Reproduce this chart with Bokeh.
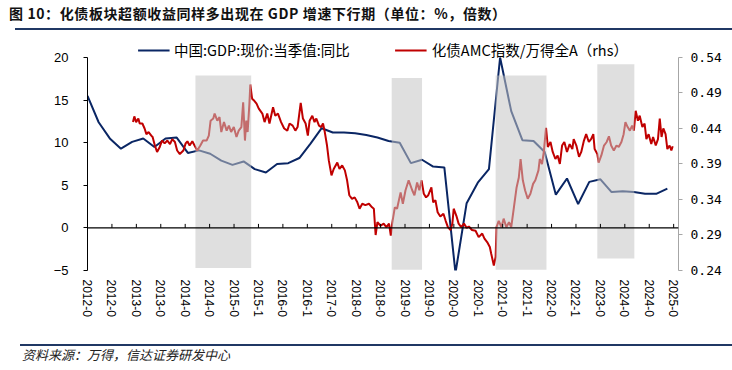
import math
from bokeh.plotting import figure
from bokeh.models import Range1d, LinearAxis, FixedTicker, Legend, LegendItem, Div, Span
from bokeh.layouts import column
from bokeh.embed import file_html
from bokeh.resources import INLINE

title_text = "图 10：化债板块超额收益同样多出现在 GDP 增速下行期（单位：%，倍数）"
source_text = "资料来源：万得，信达证券研发中心"
gdp_name = "中国:GDP:现价:当季值:同比"
ratio_name = "化债AMC指数/万得全A（rhs）"

# x axis tick labels (one every 200 days from 2012-01-01)
tick_labels = ["2012-0", "2012-0", "2013-0", "2013-0", "2014-0", "2014-0", "2015-0", "2015-1",
               "2016-0", "2016-1", "2017-0", "2018-0", "2018-0", "2019-0", "2019-0", "2020-0",
               "2020-1", "2021-0", "2021-1", "2022-0", "2022-1", "2023-0", "2024-0", "2024-0",
               "2025-0"]
tick_step_days = 200

left_ticks = [-5, 0, 5, 10, 15, 20]
right_ticks = [0.24, 0.29, 0.34, 0.39, 0.44, 0.49, 0.54]

gdp_quarters = ["2011Q4",
                "2012Q1", "2012Q2", "2012Q3", "2012Q4",
                "2013Q1", "2013Q2", "2013Q3", "2013Q4",
                "2014Q1", "2014Q2", "2014Q3", "2014Q4",
                "2015Q1", "2015Q2", "2015Q3", "2015Q4",
                "2016Q1", "2016Q2", "2016Q3", "2016Q4",
                "2017Q1", "2017Q2", "2017Q3", "2017Q4",
                "2018Q1", "2018Q2", "2018Q3", "2018Q4",
                "2019Q1", "2019Q2", "2019Q3", "2019Q4",
                "2020Q1", "2020Q2", "2020Q3", "2020Q4",
                "2021Q1", "2021Q2", "2021Q3", "2021Q4",
                "2022Q1", "2022Q2", "2022Q3", "2022Q4",
                "2023Q1", "2023Q2", "2023Q3", "2023Q4",
                "2024Q1", "2024Q2", "2024Q3", "2024Q4"]
gdp_values = [15.5,
              12.4, 10.5, 9.3, 10.1,
              10.5, 9.5, 10.5, 10.6,
              8.8, 9.1, 8.7, 7.9,
              7.4, 7.8, 6.9, 6.5,
              7.5, 7.6, 8.2, 9.9,
              11.7, 11.2, 11.2, 11.1,
              10.9, 10.6, 10.2, 10.0,
              7.6, 8.0, 7.2, 7.1,
              -5.3, 2.9, 5.3, 6.9,
              20.0, 13.7, 10.3, 10.2,
              8.9, 3.9, 5.8, 2.8,
              5.4, 5.7, 4.2, 4.3,
              4.2, 4.0, 4.0, 4.6]

# ratio series: decimal-year dates and values (right axis)
ratio_dates = [2013.02, 2013.05, 2013.09, 2013.14, 2013.17, 2013.23, 2013.28, 2013.32, 2013.37, 2013.43,
               2013.46, 2013.51, 2013.56, 2013.62, 2013.67, 2013.73, 2013.79, 2013.85, 2013.90, 2013.96,
               2014.01, 2014.07, 2014.15, 2014.20, 2014.24, 2014.29, 2014.35, 2014.40, 2014.46, 2014.53,
               2014.59, 2014.67, 2014.72, 2014.76, 2014.82, 2014.85, 2014.91, 2014.96, 2015.00, 2015.06,
               2015.12, 2015.17, 2015.22, 2015.28, 2015.34, 2015.39, 2015.45, 2015.49, 2015.53, 2015.56,
               2015.59, 2015.63, 2015.65, 2015.69, 2015.74, 2015.79, 2015.84, 2015.92, 2015.97, 2016.03,
               2016.08, 2016.16, 2016.21, 2016.27, 2016.34, 2016.41, 2016.48, 2016.53, 2016.60, 2016.66,
               2016.71, 2016.78, 2016.83, 2016.89, 2016.94, 2016.98, 2017.04, 2017.09, 2017.13, 2017.19,
               2017.24, 2017.28, 2017.32, 2017.37, 2017.41, 2017.47, 2017.52, 2017.60, 2017.65, 2017.71,
               2017.77, 2017.82, 2017.87, 2017.93, 2017.99, 2018.05, 2018.10, 2018.16, 2018.23, 2018.31,
               2018.38, 2018.42, 2018.46, 2018.50, 2018.57, 2018.64, 2018.70, 2018.76, 2018.80, 2018.83,
               2018.89, 2018.94, 2019.02, 2019.07, 2019.13, 2019.20, 2019.28, 2019.33, 2019.39, 2019.44,
               2019.49, 2019.54, 2019.59, 2019.64, 2019.71, 2019.75, 2019.80, 2019.85, 2019.91, 2019.98,
               2020.03, 2020.08, 2020.14, 2020.18, 2020.21, 2020.27, 2020.32, 2020.38, 2020.44, 2020.50,
               2020.55, 2020.62, 2020.70, 2020.77, 2020.85, 2020.90, 2020.96, 2021.02, 2021.05, 2021.11,
               2021.15, 2021.17, 2021.22, 2021.28, 2021.33, 2021.39, 2021.45, 2021.50, 2021.56, 2021.62,
               2021.67, 2021.71, 2021.76, 2021.81, 2021.87, 2021.93, 2021.99, 2022.04, 2022.11, 2022.14,
               2022.19, 2022.23, 2022.28, 2022.32, 2022.38, 2022.43, 2022.49, 2022.54, 2022.59, 2022.64,
               2022.69, 2022.75, 2022.81, 2022.87, 2022.90, 2022.96, 2023.02, 2023.07, 2023.13, 2023.18,
               2023.24, 2023.29, 2023.34, 2023.37, 2023.43, 2023.46, 2023.52, 2023.58, 2023.64, 2023.69,
               2023.74, 2023.80, 2023.86, 2023.91, 2023.97, 2024.02, 2024.06, 2024.11, 2024.16, 2024.21,
               2024.25, 2024.29, 2024.34, 2024.38, 2024.44, 2024.49, 2024.53, 2024.58, 2024.64, 2024.68,
               2024.74, 2024.79, 2024.83, 2024.87, 2024.91, 2024.96, 2025.00, 2025.05, 2025.09, 2025.12]
ratio_values = [0.449, 0.457, 0.449, 0.454, 0.447, 0.447, 0.440, 0.432, 0.435, 0.430,
                0.428, 0.416, 0.407, 0.414, 0.423, 0.419, 0.423, 0.418, 0.425, 0.421,
                0.409, 0.404, 0.409, 0.419, 0.422, 0.416, 0.422, 0.416, 0.409, 0.416,
                0.423, 0.423, 0.430, 0.451, 0.454, 0.461, 0.451, 0.456, 0.435, 0.449,
                0.437, 0.444, 0.435, 0.442, 0.428, 0.437, 0.442, 0.477, 0.423, 0.451,
                0.435, 0.475, 0.502, 0.482, 0.479, 0.475, 0.468, 0.461, 0.449, 0.461,
                0.447, 0.470, 0.458, 0.461, 0.449, 0.440, 0.437, 0.447, 0.444, 0.437,
                0.442, 0.476, 0.454, 0.447, 0.430, 0.451, 0.458, 0.449, 0.454, 0.444,
                0.442, 0.447, 0.435, 0.416, 0.395, 0.374, 0.383, 0.392, 0.383, 0.388,
                0.381, 0.367, 0.346, 0.341, 0.343, 0.336, 0.327, 0.334, 0.332, 0.334,
                0.329, 0.327, 0.290, 0.308, 0.303, 0.306, 0.301, 0.306, 0.289, 0.306,
                0.329, 0.327, 0.350, 0.334, 0.353, 0.367, 0.353, 0.346, 0.364, 0.353,
                0.367, 0.348, 0.343, 0.346, 0.357, 0.336, 0.339, 0.322, 0.316, 0.320,
                0.310, 0.301, 0.297, 0.306, 0.327, 0.317, 0.306, 0.301, 0.306, 0.300,
                0.302, 0.297, 0.296, 0.287, 0.292, 0.285, 0.280, 0.273, 0.264, 0.247,
                0.259, 0.301, 0.310, 0.301, 0.313, 0.301, 0.308, 0.301, 0.329, 0.357,
                0.371, 0.397, 0.367, 0.353, 0.341, 0.348, 0.362, 0.367, 0.381, 0.397,
                0.390, 0.407, 0.441, 0.414, 0.421, 0.407, 0.397, 0.402, 0.390, 0.416,
                0.421, 0.407, 0.418, 0.411, 0.425, 0.416, 0.400, 0.407, 0.423, 0.432,
                0.421, 0.425, 0.432, 0.411, 0.404, 0.392, 0.402, 0.416, 0.421, 0.429,
                0.416, 0.409, 0.416, 0.414, 0.421, 0.432, 0.449, 0.442, 0.437, 0.444,
                0.437, 0.465, 0.451, 0.458, 0.442, 0.447, 0.425, 0.432, 0.418, 0.428,
                0.416, 0.425, 0.454, 0.428, 0.440, 0.432, 0.411, 0.416, 0.409, 0.415]

# shaded periods (decimal years, left-axis units)
shade_start = [2014.42, 2018.82, 2021.15, 2023.43]
shade_end = [2015.67, 2019.50, 2022.29, 2024.26]
shade_top = [17.9, 17.6, 17.9, 19.2]
shade_bottom = [-4.7, -4.9, -4.9, -3.6]

BLUE = "#0A2664"
RED = "#C00000"
BASE = 2012.0
DAYS = 365.25
TICK_LEN = 0.47  # zero-line tick height in left-axis units (about 4px)

# axis extents; the plotting area is extended above the axes to hold the legend
L_MIN, L_MAX = -5, 20
R_MIN, R_MAX = 0.24, 0.54
LEGEND_ROOM = 0.1032  # extra room above the axes, as a fraction of the axis span
L_TOP = L_MAX + (L_MAX - L_MIN) * LEGEND_ROOM
R_TOP = R_MAX + (R_MAX - R_MIN) * LEGEND_ROOM


def to_days(yr):
    return (yr - BASE) * DAYS


def quarter_to_days(q):
    y = int(q[:4])
    n = int(q[-1])
    return to_days(y + n / 4.0)


gdp_x = [quarter_to_days(q) for q in gdp_quarters]
ratio_x = [to_days(d) for d in ratio_dates]

p = figure(width=730, height=305, output_backend="svg", toolbar_location=None,
           x_range=Range1d(0, to_days(2025.25)), y_range=Range1d(L_MIN, L_TOP),
           min_border_left=87, min_border_right=52, min_border_top=5, min_border_bottom=65)
p.extra_y_ranges = {"right": Range1d(R_MIN, R_TOP)}
p.outline_line_color = None
p.xgrid.visible = False
p.ygrid.visible = False
p.background_fill_color = "white"
p.border_fill_color = "white"

r_gdp = p.line(gdp_x, gdp_values, line_color=BLUE, line_width=2)
r_ratio = p.line(ratio_x, ratio_values, line_color=RED, line_width=2, y_range_name="right")
p.quad(left=[to_days(s) for s in shade_start], right=[to_days(e) for e in shade_end],
       top=shade_top, bottom=shade_bottom, fill_color="#C4C4C4", fill_alpha=0.55, line_color=None)

tick_pos = [i * tick_step_days for i in range(len(tick_labels))]

# zero line with small upward ticks
p.add_layout(Span(location=0, dimension="width", line_color="#000000", line_width=1.2))
p.segment(x0=tick_pos, y0=[0] * len(tick_pos), x1=tick_pos, y1=[TICK_LEN] * len(tick_pos),
          line_color="#000000", line_width=1)

# bottom labels axis
xa = p.xaxis[0]
xa.ticker = FixedTicker(ticks=tick_pos)
xa.major_label_overrides = {t: lab for t, lab in zip(tick_pos, tick_labels)}
xa.major_label_orientation = -math.pi / 2
xa.axis_line_color = None
xa.major_tick_line_color = None
xa.minor_tick_line_color = None
xa.major_tick_out = 0
xa.major_tick_in = 0
xa.major_label_standoff = 9
xa.major_label_text_font = "Liberation Sans"
xa.major_label_text_font_size = "12px"
xa.major_label_text_color = "#000000"

ya = p.yaxis[0]
ya.ticker = FixedTicker(ticks=left_ticks)
ya.bounds = (L_MIN, L_MAX)
ya.axis_line_color = "#000000"
ya.major_tick_line_color = "#000000"
ya.major_tick_out = 4
ya.major_tick_in = 0
ya.minor_tick_line_color = None
ya.major_label_standoff = 15
ya.major_label_text_font = "Liberation Sans"
ya.major_label_text_font_size = "13px"
ya.major_label_text_color = "#000000"

ra = LinearAxis(y_range_name="right", ticker=FixedTicker(ticks=right_ticks))
ra.bounds = (R_MIN, R_MAX)
ra.axis_line_color = "#A6A6A6"
ra.major_tick_line_color = "#A6A6A6"
ra.major_tick_out = 4
ra.major_tick_in = 0
ra.minor_tick_line_color = None
ra.major_label_standoff = 8
ra.major_label_text_font = "DejaVu Sans Mono"
ra.major_label_text_font_size = "13px"
ra.major_label_text_color = "#000000"
p.add_layout(ra, "right")

legend = Legend(items=[LegendItem(label=gdp_name, renderers=[r_gdp]),
                       LegendItem(label=ratio_name, renderers=[r_ratio])],
                orientation="horizontal", location="top_center", spacing=45,
                glyph_width=32, glyph_height=16, label_height=16, label_standoff=5,
                margin=4, padding=0,
                label_text_font="Noto Sans CJK SC", label_text_font_size="14.5px",
                label_text_color="#000000", border_line_color=None,
                background_fill_alpha=0)
p.add_layout(legend)

title_div = Div(text=('<div style="position:relative;width:732px;height:30px;">'
                      '<div style="position:absolute;left:9px;top:4px;white-space:nowrap;'
                      'font-family:\'Noto Sans CJK SC\';font-weight:bold;font-size:14px;'
                      'letter-spacing:0.6px;line-height:18px;color:#111111;">' + title_text + '</div>'
                      '<div style="position:absolute;left:15px;top:28px;width:717px;height:2px;'
                      'background:#203864;"></div></div>'),
                width=732, height=30, margin=0)
source_div = Div(text=('<div style="position:relative;width:732px;height:30px;">'
                       '<div style="position:absolute;left:20px;top:9px;width:712px;height:2px;'
                       'background:#203864;"></div>'
                       '<div style="position:absolute;left:22px;top:12px;white-space:nowrap;'
                       'font-family:\'Noto Sans CJK SC\';font-style:italic;font-size:13px;'
                       'line-height:16px;color:#222222;">' + source_text + '</div></div>'),
                 width=732, height=30, margin=0)

layout = column(title_div, p, source_div, spacing=0)
open("out.html", "w").write(file_html(layout, INLINE))
